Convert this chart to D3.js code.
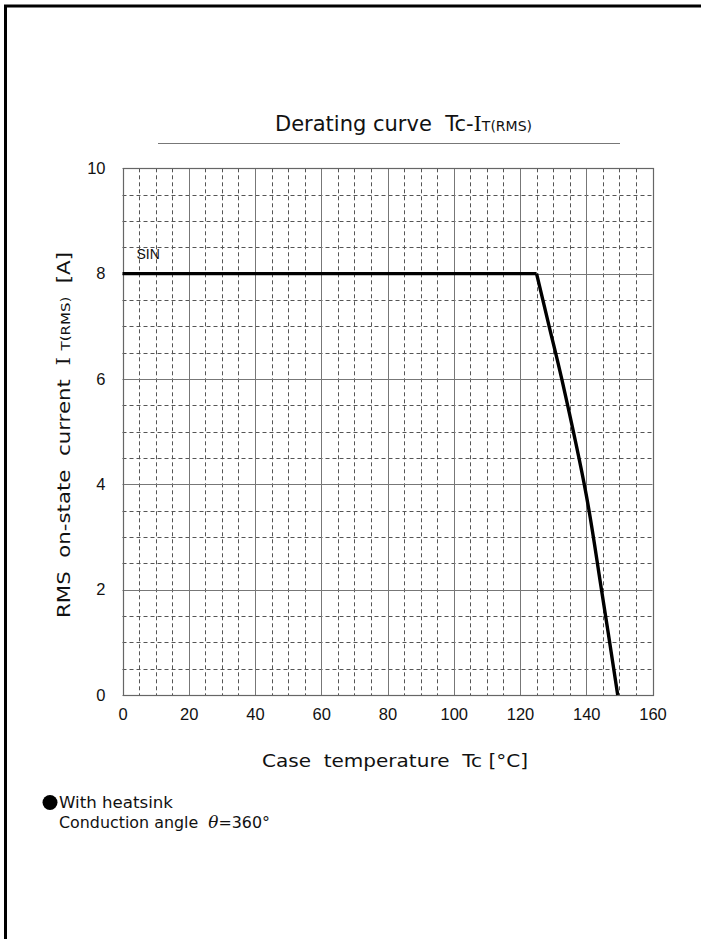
<!DOCTYPE html>
<html><head><meta charset="utf-8">
<script src="https://cdn.jsdelivr.net/npm/d3@7"></script>
<style>
html,body{margin:0;padding:0;background:#fff;overflow:hidden;}
svg{display:block;}
text{white-space:pre;}
</style></head>
<body>
<svg id="chart" width="701" height="939"></svg>
<script>
// ---- data ----
const caseTemp = [0, 125, 128.8, 132.6, 140, 144.6, 149.5];   // Tc [°C]
const rmsCurrent = [8, 8, 7, 6, 3.8, 2, 0];                    // IT(RMS) [A]
const xTicks = [0, 20, 40, 60, 80, 100, 120, 140, 160];
const yTicks = [0, 2, 4, 6, 8, 10];
const seriesLabel = "SIN";

const svg = d3.select("#chart");
const L = 122.5, R = 652.5, T = 168.3, B = 695;
const x = d3.scaleLinear().domain([0, 160]).range([L, R]);
const y = d3.scaleLinear().domain([0, 10]).range([B, T]);

// outer frame (extends past the viewport on right/bottom)
svg.append("path").attr("d", "M5.5,1000 V6 H800")
  .attr("fill", "none").attr("stroke", "#000").attr("stroke-width", 3);

// grid
const g = svg.append("g");
const minorX = d3.range(0, 161, 5).filter(v => v % 20 !== 0);
const majorX = d3.range(0, 161, 20);
const minorY = d3.range(0, 10.01, 0.5).filter(v => Math.abs(v % 2) > 1e-6);
const majorY = d3.range(0, 10.01, 2);
const px = v => Math.round(v) + 0.5;

g.selectAll(".mx").data(minorX).join("line")
  .attr("x1", d => px(x(d))).attr("x2", d => px(x(d)))
  .attr("y1", T).attr("y2", B)
  .attr("stroke", "#555").attr("stroke-width", 1).attr("stroke-dasharray", "4,3");
g.selectAll(".my").data(minorY).join("line")
  .attr("y1", d => px(y(d))).attr("y2", d => px(y(d)))
  .attr("x1", L).attr("x2", R)
  .attr("stroke", "#555").attr("stroke-width", 1).attr("stroke-dasharray", "4,3");
g.selectAll(".Mx").data(majorX).join("line")
  .attr("x1", d => px(x(d))).attr("x2", d => px(x(d)))
  .attr("y1", T).attr("y2", B)
  .attr("stroke", "#777").attr("stroke-width", 1);
g.selectAll(".My").data(majorY).join("line")
  .attr("y1", d => px(y(d))).attr("y2", d => px(y(d)))
  .attr("x1", L).attr("x2", R)
  .attr("stroke", "#777").attr("stroke-width", 1);
svg.append("rect").attr("x", px(L)).attr("y", px(T)).attr("width", px(R) - px(L)).attr("height", px(B) - px(T))
  .attr("fill", "none").attr("stroke", "#666").attr("stroke-width", 1.2);

// axes (labels only)
const tickFont = "'Liberation Sans', Arial, sans-serif";
const xAxis = svg.append("g").attr("transform", `translate(0,${B})`)
  .call(d3.axisBottom(x).tickValues(xTicks).tickSize(0).tickPadding(13).tickFormat(d3.format("d")));
xAxis.select(".domain").remove();
xAxis.selectAll("text").attr("font-family", tickFont).attr("font-size", 16.5).attr("fill", "#111");

const yAxis = svg.append("g").attr("transform", `translate(${L},0)`)
  .call(d3.axisLeft(y).tickValues(yTicks).tickSize(0).tickPadding(17).tickFormat(d3.format("d")));
yAxis.select(".domain").remove();
yAxis.selectAll("text").attr("font-family", tickFont).attr("font-size", 16.5).attr("fill", "#111");

// curve: flat part + smooth derating descent
const pts = caseTemp.map((t, i) => [t, rmsCurrent[i]]);
const flat = pts.filter(d => d[1] === 8);
const drop = pts.filter((d, i) => i >= flat.length - 1);
svg.append("path").datum(flat)
  .attr("d", d3.line().x(d => x(d[0])).y(d => y(d[1])))
  .attr("fill", "none").attr("stroke", "#000").attr("stroke-width", 3.4);
svg.append("path").datum(drop)
  .attr("d", d3.line().curve(d3.curveCatmullRom.alpha(0.5)).x(d => x(d[0])).y(d => y(d[1])))
  .attr("fill", "none").attr("stroke", "#000").attr("stroke-width", 3.4);

svg.append("text").attr("x", x(4.2)).attr("y", y(8) - 14.5)
  .attr("font-family", tickFont).attr("font-size", 14).attr("fill", "#111").text(seriesLabel);

const F = "'DejaVu Sans', sans-serif";
const SERIF = "'DejaVu Serif', serif";

// title
const title = svg.append("text").attr("x", 275).attr("y", 131)
  .attr("font-family", F).attr("font-size", 21).attr("fill", "#111")
  .attr("textLength", 257).attr("lengthAdjust", "spacingAndGlyphs");
title.append("tspan").text("Derating curve  Tc-");
title.append("tspan").attr("font-family", SERIF).text("I");
title.append("tspan").attr("font-size", 14).text("T(RMS)");
svg.append("line").attr("x1", 158).attr("x2", 620).attr("y1", 143.5).attr("y2", 143.5)
  .attr("stroke", "#777").attr("stroke-width", 1);

// x label
svg.append("text").attr("x", 262).attr("y", 767)
  .attr("font-family", F).attr("font-size", 18.5).attr("fill", "#111")
  .attr("textLength", 266).attr("lengthAdjust", "spacingAndGlyphs")
  .text("Case  temperature  Tc [°C]");

// y label (rotated)
const yl = svg.append("text").attr("transform", "translate(70,618) rotate(-90)")
  .attr("x", 0).attr("y", 0)
  .attr("font-family", F).attr("font-size", 18.5).attr("fill", "#111")
  .attr("textLength", 366).attr("lengthAdjust", "spacingAndGlyphs");
yl.append("tspan").text("RMS  on-state  current  ");
yl.append("tspan").attr("font-family", SERIF).text("I ");
yl.append("tspan").attr("font-size", 13).text("T(RMS)");
yl.append("tspan").text("  [A]");

// note
svg.append("circle").attr("cx", 50).attr("cy", 802.5).attr("r", 7.5).attr("fill", "#000");
svg.append("text").attr("x", 59).attr("y", 808)
  .attr("font-family", F).attr("font-size", 16).attr("fill", "#111")
  .attr("textLength", 114).attr("lengthAdjust", "spacingAndGlyphs").text("With heatsink");
const cond = svg.append("text").attr("x", 59).attr("y", 828)
  .attr("font-family", F).attr("font-size", 16).attr("fill", "#111")
  .attr("textLength", 211).attr("lengthAdjust", "spacingAndGlyphs");
cond.append("tspan").text("Conduction angle  ");
cond.append("tspan").attr("font-family", SERIF).attr("font-style", "italic").attr("font-size", 17).text("θ");
cond.append("tspan").text("=360°");
</script>
</body></html>
